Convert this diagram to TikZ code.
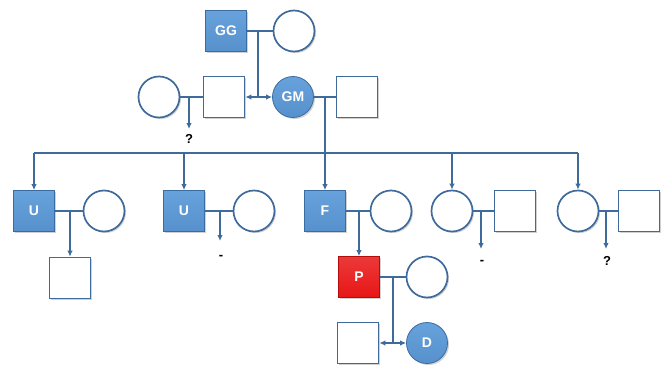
\documentclass[tikz,border=0pt]{standalone}
\usepackage{fontspec}
\setmainfont{Liberation Sans}
\usetikzlibrary{arrows.meta,shadows}
\definecolor{lineblue}{RGB}{62,106,156}
\definecolor{fillblue}{RGB}{86,145,205}
\definecolor{filltop}{RGB}{104,162,220}
\definecolor{edgeblue}{RGB}{58,108,162}
\definecolor{fillred}{RGB}{232,22,22}
\definecolor{edgered}{RGB}{178,12,12}
\begin{document}
\begin{tikzpicture}[x=1pt,y=-1pt,
  shape base/.style={draw=lineblue, line width=1.7pt, fill=white, minimum size=41pt, inner sep=0pt,
    drop shadow={opacity=0.3, fill=black!60, shadow xshift=1.5pt, shadow yshift=-1.5pt}},
  male/.style={shape base, rectangle},
  female/.style={shape base, circle},
  kin/.style={top color=filltop, bottom color=fillblue, draw=edgeblue, line width=0.8pt, text=white,
    font=\bfseries\fontsize{14}{14}\selectfont},
  proband/.style={kin, top color=fillred!85!white, bottom color=fillred, draw=edgered},
  link/.style={draw=lineblue, line width=1.4pt},
  desc/.style={link, -{Latex[length=6pt,width=5.5pt]}},
  note/.style={font=\bfseries\fontsize{13}{13}\selectfont, text=black, inner sep=0pt}
]
\useasboundingbox (0,0) rectangle (669,369);

% generation I
\node[male, kin] (gg) at (226,31) {GG};
\node[female] (ggw) at (294,31) {};
\coordinate (ggm) at (258,31);
\coordinate (ggs) at (258,97);

% generation II
\node[female] (lw) at (159,97) {};
\node[male] (lh) at (224,97) {};
\node[female, kin] (gm) at (293,97) {GM};
\node[male] (gf) at (357,97) {};
\coordinate (lm) at (189,97);
\coordinate (lq) at (189,129);
\node[note] (lqm) at (189,139) {?};
\coordinate (gmm) at (325,97);

% sibship line
\coordinate (s1) at (34,153);
\coordinate (s2) at (184,153);
\coordinate (s3) at (325,153);
\coordinate (s4) at (452,153);
\coordinate (s5) at (578,153);

% generation III
\node[male, kin] (u1) at (34,211) {U};
\node[female] (u1w) at (104,211) {};
\coordinate (u1m) at (70,211);
\node[male] (c1) at (70,278) {};

\node[male, kin] (u2) at (184,211) {U};
\node[female] (u2w) at (254,211) {};
\coordinate (u2m) at (220,211);
\coordinate (u2q) at (220,241);
\node[note] (u2n) at (221,257) {-};

\node[male, kin] (f) at (325,211) {F};
\node[female] (fw) at (391,211) {};
\coordinate (fm) at (359,211);

\node[female] (a1) at (452,211) {};
\node[male] (a1h) at (515,211) {};
\coordinate (a1m) at (481,211);
\coordinate (a1q) at (481,249);
\node[note] (a1n) at (482,262) {-};

\node[female] (a2) at (578,211) {};
\node[male] (a2h) at (639,211) {};
\coordinate (a2m) at (606,211);
\coordinate (a2q) at (606,249);
\node[note] (a2n) at (607,261) {?};

% generation IV
\node[male, proband] (p) at (359,277) {P};
\node[female] (pw) at (427,277) {};
\coordinate (pm) at (393,277);
\coordinate (pj) at (393,343);

% generation V
\node[male] (ps) at (358,343) {};
\node[female, kin] (d) at (427,343) {D};

% connectors
\draw[link] (gg.east) -- (ggw.west);
\draw[link] (ggm) -- (ggs);
\draw[desc] (ggs) -- (gm.west);
\draw[desc] (ggs) -- (lh.east);

\draw[link] (lw.east) -- (lh.west);
\draw[desc] (lm) -- (lq);

\draw[link] (gm.east) -- (gf.west);
\draw[link] (gmm) -- (s3);
\draw[link] (s1) -- (s5);
\draw[desc] (s1) -- (u1.north);
\draw[desc] (s2) -- (u2.north);
\draw[desc] (s3) -- (f.north);
\draw[desc] (s4) -- (a1.north);
\draw[desc] (s5) -- (a2.north);

\draw[link] (u1.east) -- (u1w.west);
\draw[desc] (u1m) -- (c1.north);
\draw[link] (u2.east) -- (u2w.west);
\draw[desc] (u2m) -- (u2q);
\draw[link] (f.east) -- (fw.west);
\draw[desc] (fm) -- (p.north);
\draw[link] (a1.east) -- (a1h.west);
\draw[desc] (a1m) -- (a1q);
\draw[link] (a2.east) -- (a2h.west);
\draw[desc] (a2m) -- (a2q);

\draw[link] (p.east) -- (pw.west);
\draw[link] (pm) -- (pj);
\draw[desc] (pj) -- (d.west);
\draw[desc] (pj) -- (ps.east);
\end{tikzpicture}
\end{document}
